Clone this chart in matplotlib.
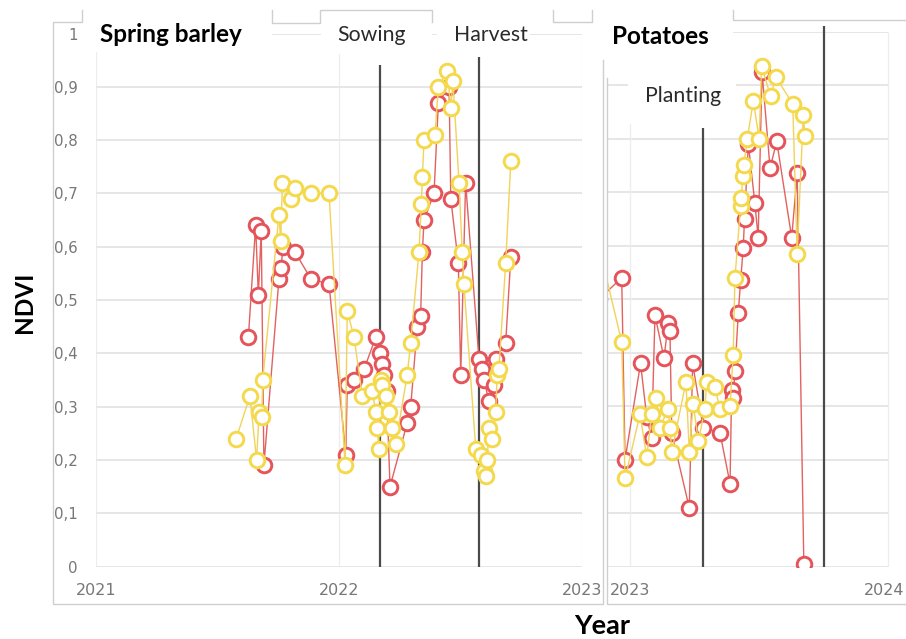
import matplotlib
matplotlib.use("Agg")
import matplotlib.pyplot as plt
from matplotlib.patches import Rectangle
from matplotlib.lines import Line2D
from matplotlib.transforms import ScaledTranslation

W, H = 906, 639

# NDVI per image date (decimal years), spring barley field 2021-2022
barley_red_t = [2021.627, 2021.657, 2021.668, 2021.680, 2021.691, 2021.753, 2021.761, 2021.770,
                2021.819, 2021.884, 2021.959, 2022.028, 2022.034, 2022.062, 2022.103, 2022.151,
                2022.168, 2022.176, 2022.185, 2022.196, 2022.210, 2022.281, 2022.295, 2022.322,
                2022.336, 2022.343, 2022.350, 2022.391, 2022.409, 2022.453, 2022.460, 2022.491,
                2022.501, 2022.521, 2022.576, 2022.587, 2022.597, 2022.617, 2022.638, 2022.645,
                2022.686, 2022.707]
barley_red_v = [0.43, 0.64, 0.51, 0.63, 0.19, 0.54, 0.56, 0.60,
                0.59, 0.54, 0.53, 0.21, 0.34, 0.35, 0.37, 0.43,
                0.40, 0.38, 0.36, 0.33, 0.15, 0.27, 0.30, 0.45,
                0.47, 0.59, 0.65, 0.70, 0.87, 0.90, 0.69, 0.57,
                0.36, 0.72, 0.39, 0.37, 0.35, 0.31, 0.34, 0.39,
                0.42, 0.58]
barley_yel_t = [2021.577, 2021.633, 2021.661, 2021.671, 2021.682, 2021.686, 2021.753, 2021.760,
                2021.767, 2021.801, 2021.819, 2021.886, 2021.959, 2022.025, 2022.034, 2022.062,
                2022.096, 2022.137, 2022.151, 2022.158, 2022.163, 2022.172, 2022.177, 2022.192,
                2022.206, 2022.219, 2022.233, 2022.281, 2022.295, 2022.329, 2022.339, 2022.343,
                2022.350, 2022.395, 2022.409, 2022.446, 2022.460, 2022.469, 2022.494, 2022.507,
                2022.514, 2022.563, 2022.583, 2022.597, 2022.604, 2022.610, 2022.617, 2022.631,
                2022.645, 2022.651, 2022.658, 2022.686, 2022.707]
barley_yel_v = [0.24, 0.32, 0.20, 0.29, 0.28, 0.35, 0.66, 0.61,
                0.72, 0.69, 0.71, 0.70, 0.70, 0.19, 0.48, 0.43,
                0.32, 0.33, 0.29, 0.26, 0.22, 0.35, 0.34, 0.32,
                0.29, 0.26, 0.23, 0.36, 0.42, 0.59, 0.68, 0.73,
                0.80, 0.81, 0.90, 0.93, 0.86, 0.91, 0.72, 0.59,
                0.53, 0.22, 0.21, 0.18, 0.17, 0.20, 0.26, 0.24,
                0.29, 0.36, 0.37, 0.57, 0.76]

# NDVI per image date, potato field 2023
potato_red_t = [2022.880, 2022.968, 2022.981, 2023.041, 2023.065, 2023.084, 2023.097, 2023.132,
                2023.148, 2023.155, 2023.162, 2023.230, 2023.243, 2023.284, 2023.349, 2023.388,
                2023.394, 2023.400, 2023.407, 2023.420, 2023.429, 2023.439, 2023.444, 2023.459,
                2023.484, 2023.497, 2023.512, 2023.543, 2023.569, 2023.627, 2023.648, 2023.674]
potato_red_v = [0.50, 0.54, 0.20, 0.38, 0.28, 0.24, 0.47, 0.39,
                0.455, 0.44, 0.25, 0.11, 0.38, 0.26, 0.25, 0.155,
                0.33, 0.315, 0.365, 0.475, 0.535, 0.595, 0.65, 0.79,
                0.68, 0.615, 0.925, 0.745, 0.795, 0.615, 0.735, 0.005]
potato_yel_t = [2022.860, 2022.968, 2022.981, 2023.039, 2023.065, 2023.084, 2023.101, 2023.116,
                2023.148, 2023.155, 2023.162, 2023.217, 2023.230, 2023.245, 2023.265, 2023.291,
                2023.297, 2023.329, 2023.349, 2023.388, 2023.400, 2023.407, 2023.429, 2023.432,
                2023.437, 2023.441, 2023.455, 2023.478, 2023.501, 2023.510, 2023.545, 2023.566,
                2023.631, 2023.648, 2023.672, 2023.678]
potato_yel_v = [0.64, 0.42, 0.165, 0.285, 0.205, 0.285, 0.315, 0.26,
                0.295, 0.26, 0.215, 0.345, 0.215, 0.305, 0.235, 0.295,
                0.345, 0.335, 0.295, 0.30, 0.395, 0.54, 0.675, 0.69,
                0.73, 0.75, 0.80, 0.87, 0.80, 0.935, 0.88, 0.915,
                0.865, 0.585, 0.845, 0.805]

# field operations
barley_event_t = [2022.169, 2022.576]
barley_event_top = [0.94, 0.955]
potato_event_t = [2023.284, 2023.752]
potato_event_top = [0.82, 1.01]

yticks = [i / 10 for i in range(11)]
ylabels = ["0" if v == 0 else ("1" if v == 1 else f"{v:.1f}".replace(".", ",")) for v in yticks]

RED = "#e5545a"
RED_LINE = "#e2625f"
YEL = "#f4d94c"
YEL_LINE = "#f1d35a"
GRID = "#e6e6e6"
TICK = "#777777"
FRAME = "#cfcfcf"
EVENT = "#4a4a4a"


def px(x0, y0, x1, y1):
    return [x0 / W, 1 - y1 / H, (x1 - x0) / W, (y1 - y0) / H]


def series(ax, t, v, col, lcol):
    ax.plot(t, v, "-", color=lcol, lw=1.0, marker="o", ms=10.5, mfc="white",
            mec=col, mew=2.1, zorder=3)


fig = plt.figure(figsize=(W / 100, H / 100), dpi=100)

# --- spring barley panel
ax1 = fig.add_axes(px(96, 33.5, 582, 566.6))
ax1.set_xlim(2021, 2023)
ax1.set_ylim(0, 1)
ax1.set_yticks(yticks)
ax1.set_yticklabels(ylabels)
ax1.set_xticks([2021, 2022, 2023])
ax1.set_xticklabels(["2021", "2022", "2023"])
ax1.grid(axis="y", color=GRID, lw=1.4)
ax1.grid(axis="x", color="#ededed", lw=0.9)
ax1.tick_params(length=0, labelcolor=TICK)
ax1.tick_params(axis="y", pad=13, labelsize=10.8)
ax1.tick_params(axis="x", pad=11.5, labelsize=11.5)
for s in ax1.spines.values():
    s.set_visible(False)
ax1.vlines(barley_event_t, 0, barley_event_top, color=EVENT, lw=1.6, zorder=2)
series(ax1, barley_red_t, barley_red_v, RED, RED_LINE)
series(ax1, barley_yel_t, barley_yel_v, YEL, YEL_LINE)

# --- potato panel
ax2 = fig.add_axes(px(607, 31.7, 906, 566.7))
ax2.set_xlim(2022.911, 2024.07)
ax2.set_ylim(0, 1)
ax2.set_yticks([])
ax2.set_xticks([2023, 2024])
ax2.set_xticklabels(["2023", "2024"])
ax2.hlines(yticks, 2022.911, 2024, color=GRID, lw=1.4, zorder=0)
ax2.vlines([2023, 2024], 0, 1, color="#ededed", lw=0.9, zorder=0)
ax2.tick_params(length=0, labelsize=11.5, labelcolor=TICK, pad=11.5)
for s in ax2.spines.values():
    s.set_visible(False)
# keep the last year label inside the canvas
last = ax2.get_xticklabels()[-1]
last.set_transform(last.get_transform() + ScaledTranslation(-3 / 72, 0, fig.dpi_scale_trans))
ax2.vlines(potato_event_t, 0, potato_event_top, color=EVENT, lw=1.6, zorder=2, clip_on=False)
series(ax2, potato_red_t, potato_red_v, RED, RED_LINE)
series(ax2, potato_yel_t, potato_yel_v, YEL, YEL_LINE)

# white label boxes laid over the panels
for x0, y0, x1, y1 in [(86, 24, 272, 52), (321, 11, 432, 54), (437, 23, 530, 54),
                       (605, 0, 733, 77), (628, 77, 736, 124)]:
    fig.add_artist(Rectangle((x0 / W, 1 - y1 / H), (x1 - x0) / W, (y1 - y0) / H,
                             transform=fig.transFigure, facecolor="white",
                             edgecolor="none", zorder=5))


def fline(xs, ys, col=FRAME, lw=1.0):
    fig.add_artist(Line2D([x / W for x in xs], [1 - y / H for y in ys],
                          transform=fig.transFigure, color=col, lw=lw, zorder=6))


# panel borders
fline([82, 82, 53, 53, 603, 603], [10, 22, 22, 604, 604, 60])
fline([272, 272, 320, 320, 432, 432], [10, 22.7, 22.7, 10, 10, 22])
fline([553, 553, 592, 592], [10, 22, 22, 10])
fline([607, 607, 906], [78, 604, 604])
fline([733, 733, 906], [10, 20, 20])

# labels
fig.text(171 / W, 1 - 35 / H, "Spring barley", family="Lato", weight="bold",
         fontsize=17.5, ha="center", va="center", zorder=7)
fig.text(371.5 / W, 1 - 35 / H, "Sowing", family="Lato", fontsize=15.3,
         color="#2a2a2a", ha="center", va="center", zorder=7)
fig.text(491 / W, 1 - 35 / H, "Harvest", family="Lato", fontsize=15.3,
         color="#2a2a2a", ha="center", va="center", zorder=7)
fig.text(660 / W, 1 - 36 / H, "Potatoes", family="Lato", weight="bold",
         fontsize=17.5, ha="center", va="center", zorder=7)
fig.text(683.5 / W, 1 - 96 / H, "Planting", family="Lato", fontsize=15.3,
         color="#2a2a2a", ha="center", va="center", zorder=7)
fig.text(24 / W, 1 - 302 / H, "NDVI", family="Lato", weight="bold", fontsize=17.5,
         rotation=90, ha="center", va="center")
fig.text(602 / W, 1 - 626 / H, "Year", family="Lato", weight="bold", fontsize=19.5,
         ha="center", va="center")

fig.savefig("out.png", dpi=100)
